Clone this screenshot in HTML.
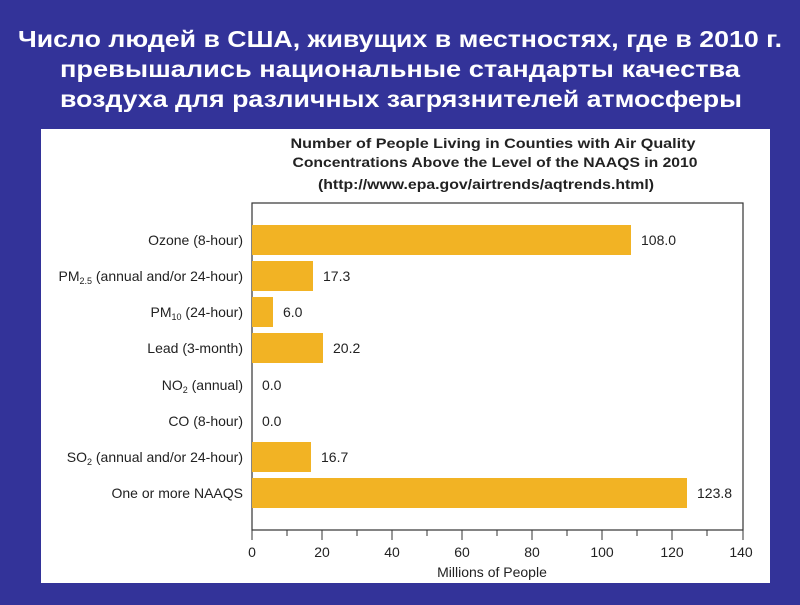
<!DOCTYPE html>
<html><head><meta charset="utf-8"><style>
body{margin:0;width:800px;height:600px;background:#333399;overflow:hidden;font-family:"Liberation Sans",Arial,sans-serif}
</style></head><body>
<svg width="800" height="600" xmlns="http://www.w3.org/2000/svg" font-family="Liberation Sans, Arial, sans-serif">
<rect width="800" height="600" fill="#333399"/>
<g fill="#fff" font-weight="bold" font-size="23" text-anchor="middle">
<text x="400" y="47" textLength="764" lengthAdjust="spacingAndGlyphs">Число людей в США, живущих в местностях, где в 2010 г.</text>
<text x="400" y="77" textLength="680" lengthAdjust="spacingAndGlyphs">превышались национальные стандарты качества</text>
<text x="401" y="107" textLength="682" lengthAdjust="spacingAndGlyphs">воздуха для различных загрязнителей атмосферы</text>
</g>
<rect x="41" y="129" width="729" height="454" fill="#fff"/>
<g font-weight="bold" font-size="14" fill="#222" text-anchor="middle">
<text x="493" y="148" textLength="405" lengthAdjust="spacingAndGlyphs">Number of People Living in Counties with Air Quality</text>
<text x="495" y="167" textLength="405" lengthAdjust="spacingAndGlyphs">Concentrations Above the Level of the NAAQS in 2010</text>
<text x="486" y="189" textLength="336" lengthAdjust="spacingAndGlyphs">(http://www.epa.gov/airtrends/aqtrends.html)</text>
</g>
<rect x="252" y="203" width="491" height="327" fill="none" stroke="#333" stroke-width="1.2"/>
<g fill="#f2b324">
<rect x="252" y="225" width="379" height="30"/>
<rect x="252" y="261" width="61" height="30"/>
<rect x="252" y="297" width="21" height="30"/>
<rect x="252" y="333" width="71" height="30"/>
<rect x="252" y="442" width="59" height="30"/>
<rect x="252" y="478" width="435" height="30"/>
</g>
<g font-size="14" fill="#222">
<text x="641" y="245">108.0</text>
<text x="323" y="281">17.3</text>
<text x="283" y="317">6.0</text>
<text x="333" y="353">20.2</text>
<text x="262" y="390">0.0</text>
<text x="262" y="426">0.0</text>
<text x="321" y="462">16.7</text>
<text x="697" y="498">123.8</text>
</g>
<g font-size="14" fill="#222" text-anchor="end">
<text x="243" y="245">Ozone (8-hour)</text>
<text x="243" y="281">PM<tspan font-size="9" dy="3">2.5</tspan><tspan dy="-3"> (annual and/or 24-hour)</tspan></text>
<text x="243" y="317">PM<tspan font-size="9" dy="3">10</tspan><tspan dy="-3"> (24-hour)</tspan></text>
<text x="243" y="353">Lead (3-month)</text>
<text x="243" y="390">NO<tspan font-size="9" dy="3">2</tspan><tspan dy="-3"> (annual)</tspan></text>
<text x="243" y="426">CO (8-hour)</text>
<text x="243" y="462">SO<tspan font-size="9" dy="3">2</tspan><tspan dy="-3"> (annual and/or 24-hour)</tspan></text>
<text x="243" y="498">One or more NAAQS</text>
</g>
<g stroke="#333" stroke-width="1">
<path d="M252 530v10M287 530v6M322 530v10M357 530v6M392 530v10M427 530v6M462 530v10M497 530v6M532 530v10M567 530v6M602 530v10M637 530v6M672 530v10M707 530v6M743 530v10"/>
</g>
<g font-size="14" fill="#222" text-anchor="middle">
<text x="252" y="557">0</text><text x="322" y="557">20</text><text x="392" y="557">40</text><text x="462" y="557">60</text><text x="532" y="557">80</text><text x="602" y="557">100</text><text x="672" y="557">120</text><text x="741" y="557">140</text>
<text x="492" y="577">Millions of People</text>
</g>
</svg>
</body></html>
